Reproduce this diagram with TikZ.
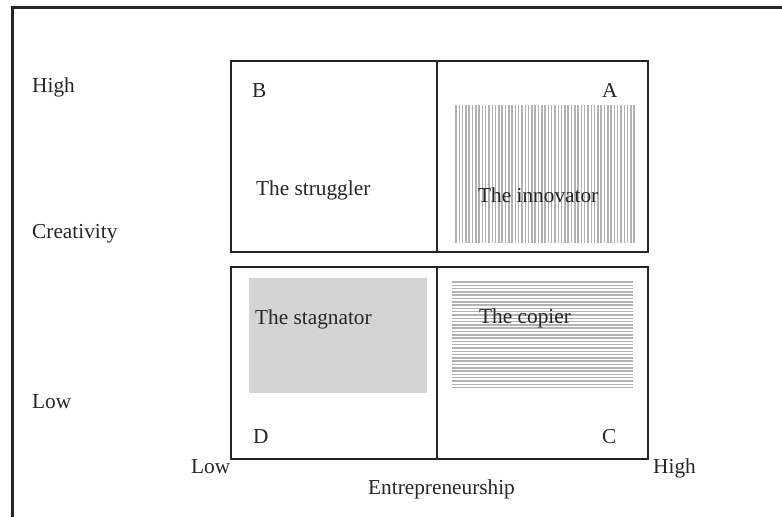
\documentclass[tikz,border=0pt]{standalone}
\usepackage{fontspec}
\setmainfont{Liberation Serif}
\begin{document}
\begin{tikzpicture}[x=1pt,y=-1pt,
  lbl/.style={anchor=base west,inner sep=0pt,font=\fontsize{21.3}{24}\selectfont,text=black!85},
  frame/.style={line width=3pt,draw=black!85},
  quad/.style={line width=2.6pt,draw=black!85},
  hatch/.style={line width=1.5pt,draw=black!30}]
\useasboundingbox (0,0) rectangle (782,517);
\fill[white] (0,0) rectangle (782,517);
% outer frame (only left and top visible)
\draw[frame] (12,517) -- (12,7) -- (782,7);
% shaded and hatched areas
\fill[black!17] (249,278) rectangle (427,393);
\foreach \i in {0,...,54} {\draw[hatch] ({456+\i*3.3},105) -- ({456+\i*3.3},243);}
\foreach \j in {0,...,32} {\draw[hatch] (452,{282+\j*3.3}) -- (633,{282+\j*3.3});}
% quadrant boxes
\coordinate (tl) at (231,61);
\coordinate (tr) at (648,252);
\coordinate (bl) at (231,267);
\coordinate (br) at (648,459);
\draw[quad] (tl) rectangle (tr);
\draw[quad] (bl) rectangle (br);
\coordinate (tm1) at (437,61);
\coordinate (tm2) at (437,252);
\coordinate (bm1) at (437,267);
\coordinate (bm2) at (437,459);
\draw[quad] (tm1) -- (tm2);
\draw[quad] (bm1) -- (bm2);
% labels
\node[lbl] (yhigh) at (32,92) {High};
\node[lbl] (ycre) at (32,238) {Creativity};
\node[lbl] (ylow) at (32,408) {Low};
\node[lbl] (lB) at (252,97) {B};
\node[lbl] (lA) at (602,97) {A};
\node[lbl] (lD) at (253,443) {D};
\node[lbl] (lC) at (602,443) {C};
\node[lbl] (strug) at (256,195) {The struggler};
\node[lbl] (innov) at (478,202) {The innovator};
\node[lbl] (stag) at (255,324) {The stagnator};
\node[lbl] (copier) at (479,323) {The copier};
\node[lbl] (xlow) at (191,473) {Low};
\node[lbl] (xhigh) at (653,473) {High};
\node[lbl] (xent) at (368,494) {Entrepreneurship};
\end{tikzpicture}
\end{document}
